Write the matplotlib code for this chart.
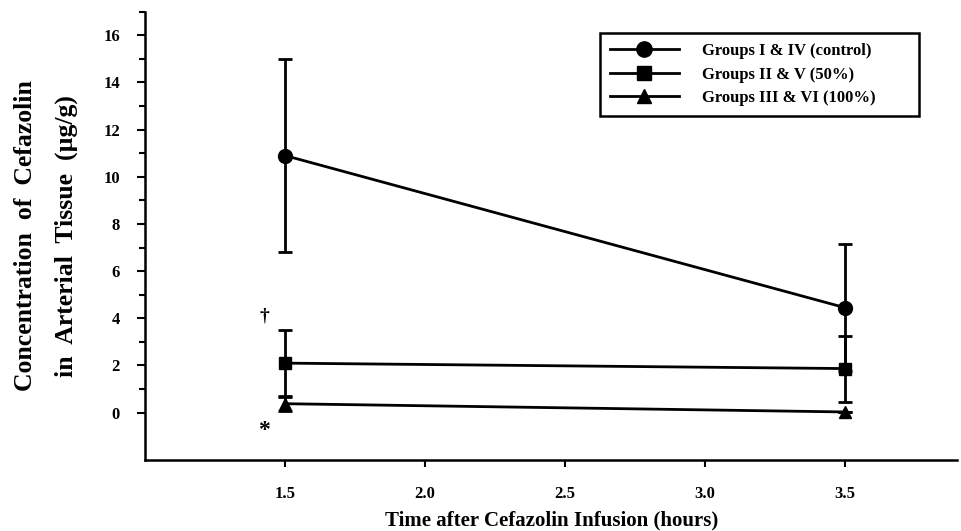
import numpy as np
import matplotlib.pyplot as plt
from matplotlib.lines import Line2D

plt.rcParams['font.family'] = ['Liberation Serif', 'DejaVu Serif']
plt.rcParams['font.weight'] = 'bold'

hours = [1.5, 3.5]

control = [10.9, 4.45]
control_err = [4.1, 2.7]
half = [2.1, 1.87]
half_err = [1.4, 1.4]
full = [0.38, 0.03]
full_err = [0.3, 0.0]

labels = ['Groups I & IV (control)', 'Groups II & V (50%)', 'Groups III & VI (100%)']
markers = ['o', 's', '^']
sizes = [10, 9, 9]

fig = plt.figure(figsize=(9.61, 5.31), dpi=100)
ax = fig.add_axes([0.151, 0.134, 0.845, 0.844])

series = [(control, control_err), (half, half_err), (full, full_err)]
handles = []
for (vals, errs), lab, m, ms in zip(series, labels, markers, sizes):
    ax.errorbar(hours, vals, yerr=errs, color='black', lw=2, marker=m, ms=ms,
                elinewidth=2, capsize=5, capthick=2)
    handles.append(Line2D([], [], color='black', lw=2, marker=m, ms=ms + 1,
                          label=lab + '\u2007' * 4))

# significance marks
ax.text(1.425, 4.1, '\u2020', ha='center', va='center', fontsize=14)
ax.text(1.425, -0.75, '*', ha='center', va='center', fontsize=17)

ax.set_xlim(1.0, 3.9)
ax.set_ylim(-2, 17)
ax.set_xticks([1.5, 2.0, 2.5, 3.0, 3.5])
ax.set_xticklabels(['1.5', '2.0', '2.5', '3.0', '3.5'])
ax.set_yticks(range(0, 17, 2))
ax.set_yticks([1, 3, 5, 7, 9, 11, 13, 15, 17], minor=True)
ax.tick_params(axis='both', direction='out', width=1.5, labelsize=12)
ax.tick_params(axis='y', which='major', length=6, pad=12)
ax.tick_params(axis='y', which='minor', length=4, width=1.5)
ax.tick_params(axis='x', length=5, pad=14)
for t in ax.get_xticklabels() + ax.get_yticklabels():
    t.set_fontweight('bold')

for s in ['top', 'right']:
    ax.spines[s].set_visible(False)
for s in ['left', 'bottom']:
    ax.spines[s].set_linewidth(1.8)

ax.set_xlabel('Time after Cefazolin Infusion (hours)', fontsize=15, fontweight='bold')
ax.xaxis.set_label_coords(0.5, -0.112)
ax.set_ylabel('Concentration  of  Cefazolin\nin  Arterial  Tissue  (\u00b5g/g)', fontsize=18.5,
              fontweight='bold', labelpad=18, linespacing=2.0)

leg = ax.legend(handles=handles, loc='upper right', bbox_to_anchor=(0.953, 0.952), fontsize=12,
                frameon=True, fancybox=False, edgecolor='black', handlelength=4.1,
                borderpad=0.6, labelspacing=0.45, handletextpad=1.4, borderaxespad=0,
                framealpha=1)
leg.get_frame().set_linewidth(1.8)
for t in leg.get_texts():
    t.set_fontweight('bold')

fig.savefig('out.png', dpi=100)
